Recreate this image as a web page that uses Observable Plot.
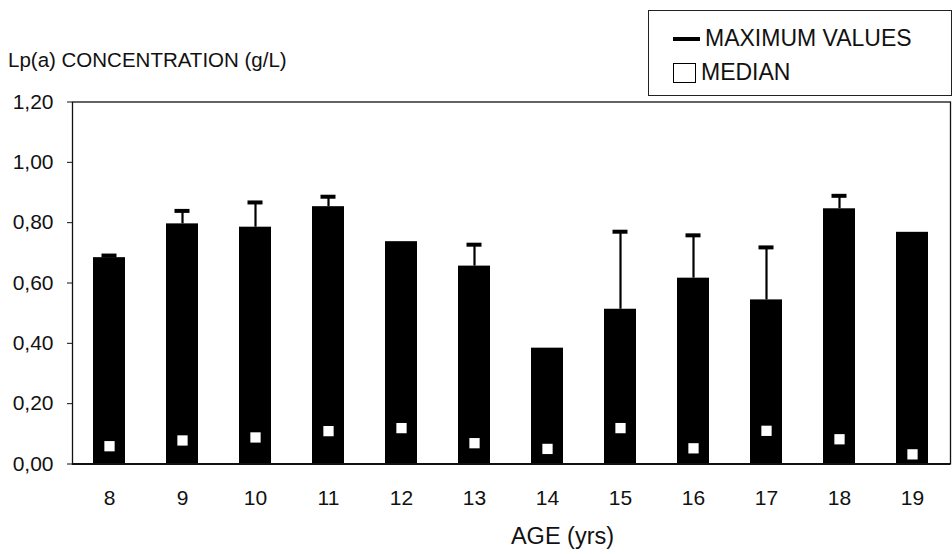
<!DOCTYPE html>
<html>
<head>
<meta charset="utf-8">
<script src="https://cdn.jsdelivr.net/npm/d3@7"></script>
<script src="https://cdn.jsdelivr.net/npm/@observablehq/plot@0.6"></script>
<style>
  html, body { margin: 0; padding: 0; background: #fff; }
  #wrap { position: relative; width: 952px; height: 554px; font-family: "Liberation Sans", Arial, sans-serif; color: #111; }
  #ytitle { position: absolute; left: 8px; top: 50px; font-size: 20.5px; line-height: 1; white-space: nowrap; }
  #legend { position: absolute; left: 648px; top: 10px; width: 304px; height: 86px; border: 1px solid #222; box-sizing: border-box; background: #fff; }
  .lg-row { position: absolute; left: 0; display: flex; align-items: center; font-size: 23px; line-height: 1; white-space: nowrap; }
  .lg-dash { width: 27px; height: 4px; background: #000; margin-left: 24px; margin-right: 5px; }
  .lg-sq { width: 23px; height: 20px; border: 1.5px solid #000; margin-left: 24px; margin-right: 5px; box-sizing: border-box; }
  svg { position: absolute; left: 0; top: 0; }
</style>
</head>
<body>
<div id="wrap">
  <div id="ytitle">Lp(a) CONCENTRATION (g/L)</div>
  <div id="legend">
    <div class="lg-row" style="top:16px"><span class="lg-dash"></span><span>MAXIMUM VALUES</span></div>
    <div class="lg-row" style="top:50px"><span class="lg-sq"></span><span>MEDIAN</span></div>
  </div>
</div>
<script>
// ---- data ----
const ages = ["8", "9", "10", "11", "12", "13", "14", "15", "16", "17", "18", "19"];
const maxValues = [0.684, 0.796, 0.785, 0.853, 0.737, 0.656, 0.384, 0.513, 0.616, 0.544, 0.846, 0.768];
const whiskerTops = [0.691, 0.839, 0.867, 0.886, null, 0.727, null, 0.770, 0.758, 0.718, 0.889, null];
const medians = [0.059, 0.078, 0.088, 0.109, 0.119, 0.069, 0.050, 0.119, 0.052, 0.110, 0.082, 0.032];
const yTicks = [0, 0.2, 0.4, 0.6, 0.8, 1.0, 1.2];
const xTitle = "AGE (yrs)";

const rows = ages.map((a, i) => ({age: a, max: maxValues[i], top: whiskerTops[i], median: medians[i]}));
const withWhisker = rows.filter(d => d.top != null);

const chart = Plot.plot({
  width: 952,
  height: 554,
  marginLeft: 72,
  marginRight: 2,
  marginTop: 101.5,
  marginBottom: 90.5,
  style: {fontFamily: "'Liberation Sans', Arial, sans-serif", fontSize: "21px", color: "#111", background: "transparent", overflow: "visible"},
  x: {domain: ages, paddingInner: 0.56, paddingOuter: 0.28, label: null, tickSize: 0, tickPadding: 26},
  y: {domain: [0, 1.2], ticks: yTicks, tickFormat: d => d.toFixed(2).replace(".", ","), label: null, tickSize: 5, tickPadding: 14},
  marks: [
    Plot.frame({stroke: "#111", strokeWidth: 1.3}),
    Plot.barY(rows, {x: "age", y: "max", fill: "#000"}),
    Plot.ruleX(withWhisker, {x: "age", y1: "max", y2: "top", stroke: "#000", strokeWidth: 2.2}),
    Plot.tickY(withWhisker, {x: "age", y: "top", stroke: "#000", strokeWidth: 4, inset: 8.5}),
    Plot.dot(rows, {x: "age", y: "median", symbol: "square", r: 5.8, fill: "#fff", stroke: "none"}),
    Plot.ruleY([0], {stroke: "#111", strokeWidth: 2}),
    Plot.text([xTitle], {frameAnchor: "bottom", text: d => d, dx: 51, dy: 80, fontSize: 23.5, fill: "#111"})
  ]
});
document.getElementById("wrap").prepend(chart);
</script>
</body>
</html>
